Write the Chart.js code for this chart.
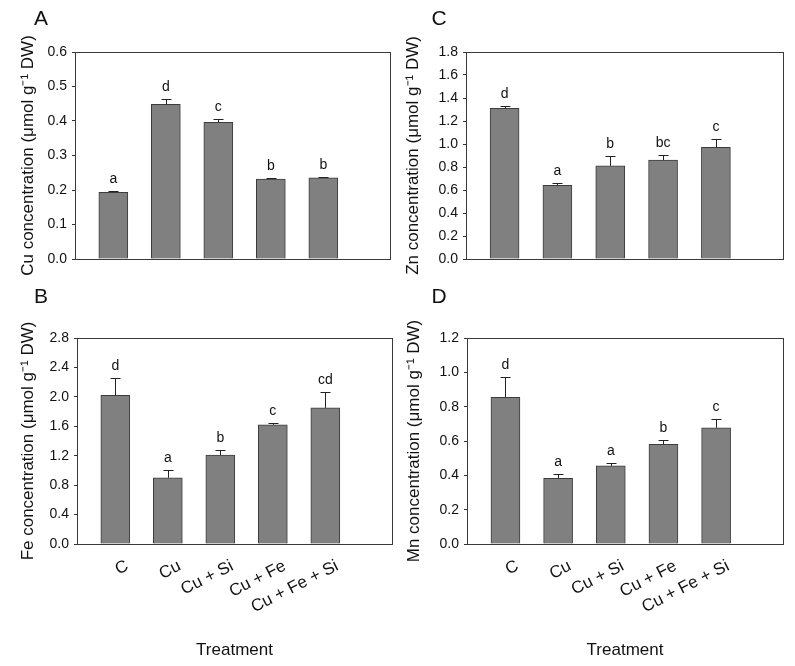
<!DOCTYPE html>
<html><head><meta charset="utf-8">
<script src="https://cdn.jsdelivr.net/npm/chart.js@4.4.0/dist/chart.umd.min.js"></script>
<style>
html,body{margin:0;padding:0;background:#fff;}
#wrap{position:relative;width:795px;height:666px;overflow:hidden;background:#fff;}
canvas{position:absolute;}
</style></head><body>
<div id="wrap">
<canvas id="cA" width="400" height="300" style="left:0px;top:0px;width:400px;height:300px"></canvas>
<canvas id="cC" width="395" height="300" style="left:400px;top:0px;width:395px;height:300px"></canvas>
<canvas id="cB" width="400" height="386" style="left:0px;top:280px;width:400px;height:386px"></canvas>
<canvas id="cD" width="395" height="386" style="left:400px;top:280px;width:395px;height:386px"></canvas>
</div>
<script>
// ---- data ----
const categories = ['C', 'Cu', 'Cu + Si', 'Cu + Fe', 'Cu + Fe + Si'];

const cuMean = [0.193, 0.448, 0.396, 0.232, 0.235];
const cuErr = [0.003, 0.017, 0.010, 0.003, 0.002];
const cuLetters = ['a', 'd', 'c', 'b', 'b'];
const cuTicks = [0, 0.1, 0.2, 0.3, 0.4, 0.5, 0.6];

const znMean = [1.31, 0.64, 0.81, 0.86, 0.97];
const znErr = [0.02, 0.025, 0.09, 0.045, 0.07];
const znLetters = ['d', 'a', 'b', 'bc', 'c'];
const znTicks = [0, 0.2, 0.4, 0.6, 0.8, 1.0, 1.2, 1.4, 1.6, 1.8];

const feMean = [2.02, 0.90, 1.21, 1.62, 1.85];
const feErr = [0.23, 0.10, 0.07, 0.025, 0.22];
const feLetters = ['d', 'a', 'b', 'c', 'cd'];
const feTicks = [0, 0.4, 0.8, 1.2, 1.6, 2.0, 2.4, 2.8];

const mnMean = [0.855, 0.382, 0.455, 0.58, 0.677];
const mnErr = [0.12, 0.023, 0.018, 0.023, 0.05];
const mnLetters = ['d', 'a', 'a', 'b', 'c'];
const mnTicks = [0, 0.2, 0.4, 0.6, 0.8, 1.0, 1.2];

const FAMILY = '"Liberation Sans", Arial, Helvetica, sans-serif';

const annotPlugin = {
  id: 'annot',
  afterDatasetsDraw(chart, args, opts) {
    const ctx = chart.ctx;
    const meta = chart.getDatasetMeta(0);
    const ys = chart.scales.y;
    const ds = chart.data.datasets[0];
    ctx.save();
    meta.data.forEach((bar, i) => {
      const v = ds.data[i].y;
      const topPx = Math.round(ys.getPixelForValue(v + opts.errors[i])) + 0.5;
      const x = Math.round(bar.x) + 0.5;
      ctx.strokeStyle = '#222';
      ctx.lineWidth = 1;
      ctx.beginPath();
      ctx.moveTo(x, bar.y);
      ctx.lineTo(x, topPx);
      ctx.moveTo(x - 5, topPx);
      ctx.lineTo(x + 5, topPx);
      ctx.stroke();
      ctx.fillStyle = '#111';
      ctx.font = '14px ' + FAMILY;
      ctx.textAlign = 'center';
      ctx.textBaseline = 'middle';
      ctx.fillText(opts.letters[i], bar.x, topPx - 12);
    });
    const a = chart.chartArea;
    ctx.strokeStyle = '#3a3a3a';
    ctx.lineWidth = 1;
    ctx.strokeRect(Math.round(a.left) + 0.5, Math.round(a.top) + 0.5,
                   Math.round(a.right - a.left), Math.round(a.bottom - a.top));
    ctx.fillStyle = '#111';
    ctx.font = '21px ' + FAMILY;
    ctx.textAlign = 'center';
    ctx.textBaseline = 'middle';
    ctx.fillText(opts.panel, opts.px, opts.py);
    ctx.restore();
  }
};

function makeChart(id, o) {
  return new Chart(document.getElementById(id), {
    type: 'bar',
    data: {
      datasets: [{
        data: o.values.map((v, i) => ({ x: i, y: v })),
        backgroundColor: '#808080',
        borderColor: '#3c3c3c',
        borderWidth: 1,
        barThickness: 29
      }]
    },
    options: {
      responsive: false,
      animation: false,
      events: [],
      layout: { padding: o.pad },
      plugins: {
        legend: { display: false },
        tooltip: { enabled: false },
        annot: { errors: o.errors, letters: o.letters, panel: o.panel, px: o.px, py: o.py }
      },
      scales: {
        x: {
          type: 'linear', min: -0.73, max: 5.27, offset: false,
          grid: { display: false }, border: { display: false },
          afterBuildTicks: s => { s.ticks = categories.map((c, i) => ({ value: i })); },
          ticks: {
            display: o.showX, autoSkip: false, minRotation: 27, maxRotation: 27,
            padding: 4, labelOffset: 12,
            callback: v => (categories[v] !== undefined ? categories[v] : ''),
            font: { size: 17, family: FAMILY }, color: '#111'
          },
          title: {
            display: o.showX, text: 'Treatment',
            font: { size: 17, family: FAMILY }, color: '#111',
            padding: { top: 0, bottom: 5 }
          },
          afterFit: s => { s.height = o.xh; }
        },
        y: {
          min: 0, max: o.ticks[o.ticks.length - 1],
          afterBuildTicks: s => { s.ticks = o.ticks.map(t => ({ value: t })); },
          grid: { drawOnChartArea: false, drawTicks: true, tickLength: 3, color: '#333' },
          border: { display: false },
          ticks: {
            padding: 5, callback: v => Number(v).toFixed(1),
            font: { size: 14, family: FAMILY }, color: '#111'
          },
          title: {
            display: true, text: o.title,
            font: { size: 17, family: FAMILY }, color: '#111',
            padding: { top: o.tp, bottom: 0 }
          },
          afterFit: s => { s.width = o.yw; }
        }
      }
    },
    plugins: [annotPlugin]
  });
}

makeChart('cA', {
  values: cuMean, errors: cuErr, letters: cuLetters, ticks: cuTicks,
  title: 'Cu concentration (\u03bcmol g\u207b\u00b9 DW)', panel: 'A', px: 41, py: 19,
  pad: { left: 0, top: 52, right: 10, bottom: 41 }, yw: 75, xh: 0, tp: 18, showX: false
});
makeChart('cC', {
  values: znMean, errors: znErr, letters: znLetters, ticks: znTicks,
  title: 'Zn concentration (\u03bcmol g\u207b\u00b9 DW)', panel: 'C', px: 39, py: 19,
  pad: { left: 0, top: 52, right: 12, bottom: 41 }, yw: 66, xh: 0, tp: 3, showX: false
});
makeChart('cB', {
  values: feMean, errors: feErr, letters: feLetters, ticks: feTicks,
  title: 'Fe concentration (\u03bcmol g\u207b\u00b9 DW)', panel: 'B', px: 41, py: 17,
  pad: { left: 0, top: 58, right: 8, bottom: 0 }, yw: 77, xh: 122, tp: 18, showX: true
});
makeChart('cD', {
  values: mnMean, errors: mnErr, letters: mnLetters, ticks: mnTicks,
  title: 'Mn concentration (\u03bcmol g\u207b\u00b9 DW)', panel: 'D', px: 39, py: 17,
  pad: { left: 0, top: 58, right: 12, bottom: 0 }, yw: 67, xh: 122, tp: 4, showX: true
});
</script>
</body></html>
